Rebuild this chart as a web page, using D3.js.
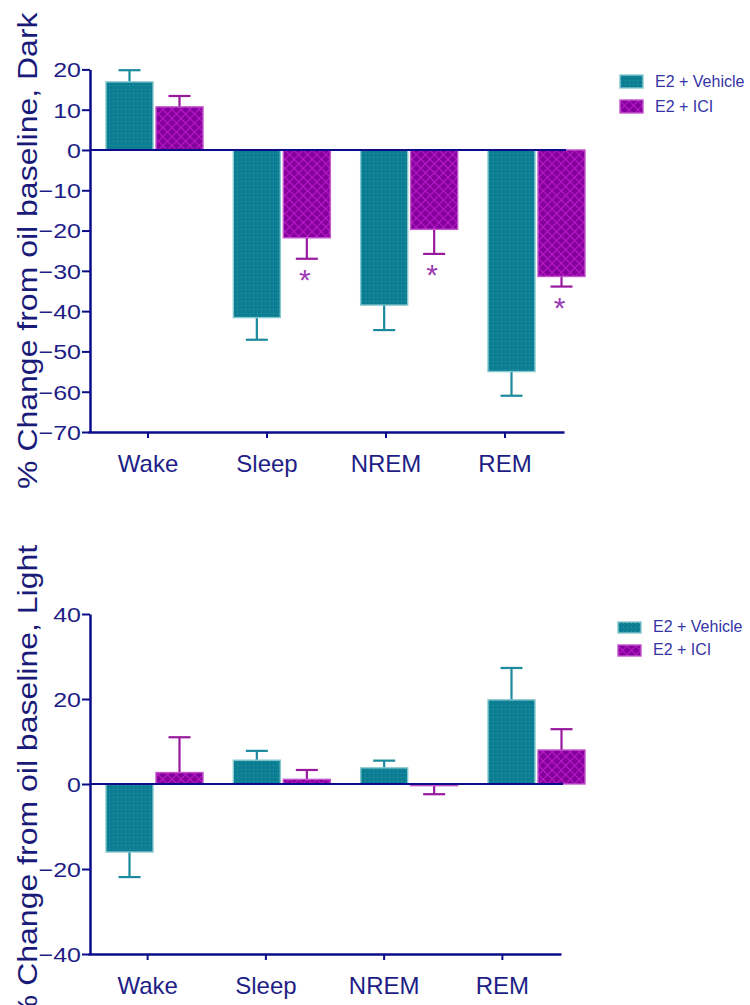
<!DOCTYPE html>
<html>
<head>
<meta charset="utf-8">
<script src="https://cdn.jsdelivr.net/npm/d3@7"></script>
<style>
  html, body { margin: 0; padding: 0; background: #fff; }
  svg { display: block; font-family: "Liberation Sans", Arial, sans-serif; }
</style>
</head>
<body>
<div id="chart"></div>
<script>
const categories = ["Wake", "Sleep", "NREM", "REM"];
const series = ["E2 + Vehicle", "E2 + ICI"];

// Dark phase
const darkVehicle = [16.9, -41.6, -38.5, -55.0];
const darkVehicleErr = [2.9, 5.5, 6.2, 6.0];
const darkIci = [10.7, -21.8, -19.7, -31.4];
const darkIciErr = [2.7, 5.2, 6.1, 2.5];
const darkStar = [false, true, true, true];
const darkTicks = [20, 10, 0, -10, -20, -30, -40, -50, -60, -70];

// Light phase
const lightVehicle = [-16.0, 5.6, 3.8, 19.8];
const lightVehicleErr = [5.9, 2.2, 1.7, 7.5];
const lightIci = [2.7, 1.1, -0.4, 8.0];
const lightIciErr = [8.3, 2.2, 2.0, 4.9];
const lightStar = [false, false, false, false];
const lightTicks = [40, 20, 0, -20, -40];

const navy = "#0c0c8a";
const textCol = "#1e1e86";
const colors = {
  "E2 + Vehicle": { fill: "url(#tealPat)", stroke: "#86c8cf", err: "#1a8a9c" },
  "E2 + ICI": { fill: "url(#iciPat)", stroke: "#c455cc", err: "#98189e" }
};

const svg = d3.select("#chart").append("svg")
  .attr("width", 750).attr("height", 1005);

// fill patterns
const defs = svg.append("defs");
const tp = defs.append("pattern").attr("id", "tealPat")
  .attr("width", 4).attr("height", 4).attr("patternUnits", "userSpaceOnUse");
tp.append("rect").attr("width", 4).attr("height", 4).attr("fill", "#0b7e93");
tp.append("rect").attr("x", 1).attr("y", 1).attr("width", 1).attr("height", 1).attr("fill", "#2e97a8");

const ip = defs.append("pattern").attr("id", "iciPat")
  .attr("width", 6.4).attr("height", 6.4).attr("patternUnits", "userSpaceOnUse")
  .attr("patternTransform", "rotate(45)");
ip.append("rect").attr("width", 6.4).attr("height", 6.4).attr("fill", "#84009a");
ip.append("path").attr("d", "M0,0 H6.4 M0,0 V6.4")
  .attr("stroke", "#b81ac8").attr("stroke-width", 2.2);

function drawPanel(cfg) {
  const g = svg.append("g");
  const y = d3.scaleLinear().domain(cfg.domain).range(cfg.yRange);
  const xTick = d3.scalePoint().domain(categories).range(cfg.xRange).padding(0.5);
  const xGroup = d3.scalePoint().domain(categories).range([154.5, 536.5]);
  const xSub = d3.scaleBand().domain(series).range([-48.5, 48.5]).paddingInner(0.06);

  const rows = [];
  categories.forEach((c, i) => {
    rows.push({ cat: c, s: series[0], v: cfg.vehicle[i], e: cfg.vehicleErr[i], star: false });
    rows.push({ cat: c, s: series[1], v: cfg.ici[i], e: cfg.iciErr[i], star: cfg.star[i] });
  });
  const bx = d => xGroup(d.cat) + xSub(d.s);
  const bw = xSub.bandwidth();
  const errEnd = d => d.v >= 0 ? d.v + d.e : d.v - d.e;

  // error bars (one-sided, drawn first)
  const eb = g.append("g").selectAll("g").data(rows).enter().append("g")
    .attr("stroke", d => colors[d.s].err).attr("stroke-width", 2.2);
  eb.append("line")
    .attr("x1", d => bx(d) + bw / 2).attr("x2", d => bx(d) + bw / 2)
    .attr("y1", d => y(d.v)).attr("y2", d => y(errEnd(d)));
  eb.append("line")
    .attr("x1", d => bx(d) + bw / 2 - 11).attr("x2", d => bx(d) + bw / 2 + 11)
    .attr("y1", d => y(errEnd(d))).attr("y2", d => y(errEnd(d)));

  // bars
  g.append("g").selectAll("rect").data(rows).enter().append("rect")
    .attr("x", d => bx(d))
    .attr("y", d => y(Math.max(0, d.v)))
    .attr("width", bw)
    .attr("height", d => Math.abs(y(d.v) - y(0)))
    .attr("fill", d => colors[d.s].fill)
    .attr("stroke", d => colors[d.s].stroke)
    .attr("stroke-width", 1.4);

  // significance stars
  g.append("g").selectAll("text").data(rows.filter(d => d.star)).enter().append("text")
    .attr("x", d => bx(d) + bw / 2 - 2)
    .attr("y", d => y(errEnd(d)) + 31)
    .attr("text-anchor", "middle")
    .attr("font-size", 30)
    .attr("fill", "#9a3ab4")
    .text("*");

  // zero line
  g.append("line")
    .attr("x1", 90).attr("x2", cfg.xRange[1] + 2)
    .attr("y1", y(0)).attr("y2", y(0))
    .attr("stroke", navy).attr("stroke-width", 2.2);

  // y axis
  const ya = g.append("g").attr("transform", "translate(90,0)")
    .call(d3.axisLeft(y).tickValues(cfg.ticks).tickSize(8).tickSizeOuter(0));
  ya.select(".domain").attr("stroke", navy).attr("stroke-width", 2.5);
  ya.selectAll(".tick line").attr("stroke", navy).attr("stroke-width", 2);
  ya.selectAll(".tick text")
    .attr("x", 0).attr("dy", "0.36em")
    .attr("transform", "translate(-9,0) scale(1.22,1)")
    .attr("font-size", 20.5).attr("fill", textCol)
    .attr("font-family", "'Liberation Sans', Arial, sans-serif");

  // x axis
  const xa = g.append("g").attr("transform", `translate(0,${cfg.yRange[0]})`)
    .call(d3.axisBottom(xTick).tickSize(6).tickSizeOuter(0));
  xa.select(".domain").attr("stroke", navy).attr("stroke-width", 2.5);
  xa.selectAll(".tick line").attr("stroke", navy).attr("stroke-width", 2);
  xa.selectAll(".tick text")
    .attr("y", 40).attr("dy", 0)
    .attr("font-size", 24).attr("fill", textCol)
    .attr("font-family", "'Liberation Sans', Arial, sans-serif");

  // y title (glyphs slightly condensed across the baseline, as in the source)
  g.append("text")
    .attr("transform", `translate(37,${(cfg.yRange[0] + cfg.yRange[1]) / 2}) rotate(-90) scale(1,0.85)`)
    .attr("text-anchor", "middle")
    .attr("font-size", 32)
    .attr("fill", "#1a1a78")
    .text(cfg.title);

  // legend
  const lg = g.append("g").selectAll("g").data(series).enter().append("g")
    .attr("transform", (d, i) => `translate(${cfg.legend[0]},${cfg.legend[1] + i * cfg.legend[2]})`);
  lg.append("rect")
    .attr("width", 23).attr("height", cfg.legend[3])
    .attr("fill", d => colors[d].fill)
    .attr("stroke", d => colors[d].stroke).attr("stroke-width", 1.4);
  lg.append("text")
    .attr("x", 35).attr("y", cfg.legend[3] - 1)
    .attr("font-size", 16).attr("fill", "#3434a6")
    .text(d => d);
}

drawPanel({
  title: "% Change from oil baseline, Dark",
  domain: [-70, 20], yRange: [432, 69.4], xRange: [88, 564],
  vehicle: darkVehicle, vehicleErr: darkVehicleErr,
  ici: darkIci, iciErr: darkIciErr, star: darkStar, ticks: darkTicks,
  legend: [620, 75, 25, 13]
});

drawPanel({
  title: "% Change from oil baseline, Light",
  domain: [-40, 40], yRange: [954, 614], xRange: [88, 561],
  vehicle: lightVehicle, vehicleErr: lightVehicleErr,
  ici: lightIci, iciErr: lightIciErr, star: lightStar, ticks: lightTicks,
  legend: [618, 622, 23, 11]
});
</script>
</body>
</html>
